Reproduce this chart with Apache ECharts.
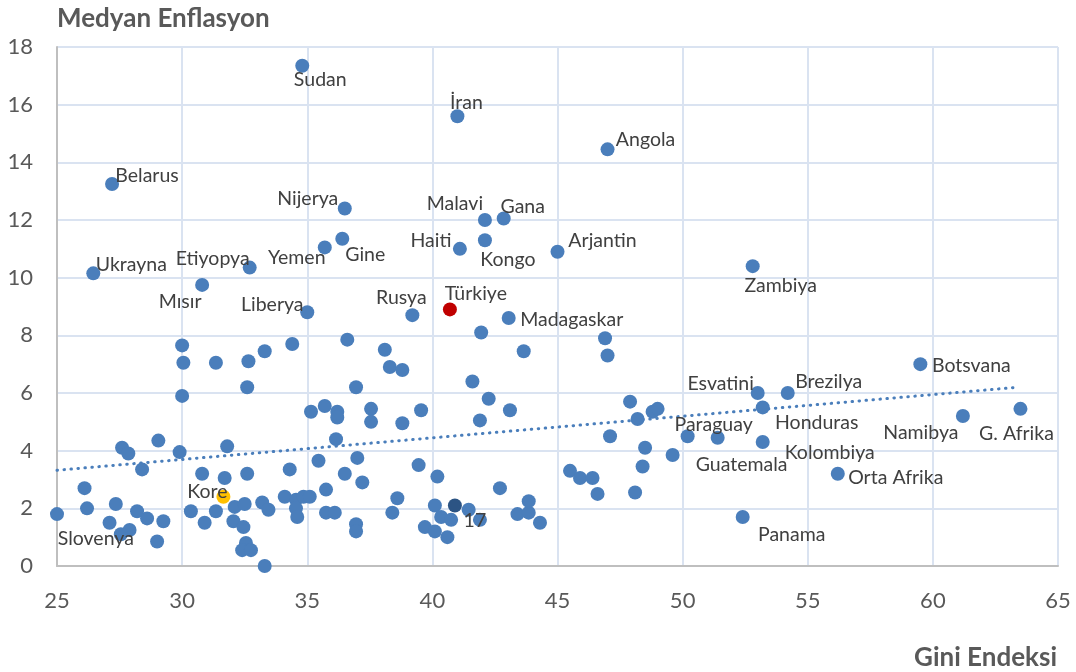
<!DOCTYPE html>
<html>
<head>
<meta charset="utf-8">
<script src="https://cdn.jsdelivr.net/npm/echarts@6/dist/echarts.min.js"></script>
<style>
  html, body { margin: 0; padding: 0; background: #fff; }
  #chart { width: 1076px; height: 672px; }
</style>
</head>
<body>
<div id="chart"></div>
<script>
  // etiketli ülkeler
  var countryNames = ['Sudan', 'İran', 'Angola', 'Belarus', 'Nijerya', 'Malavi', 'Gana', 'Gine', 'Yemen', 'Haiti',
    'Kongo', 'Arjantin', 'Zambiya', 'Ukrayna', 'Etiyopya', 'Mısır', 'Liberya', 'Rusya', 'Madagaskar', 'Botsvana',
    'Esvatini', 'Brezilya', 'Honduras', 'Namibya', 'G. Afrika', 'Paraguay', 'Guatemala', 'Kolombiya', 'Orta Afrika',
    'Panama', 'Slovenya']
  var countryGini = [34.8, 41.0, 47.0, 27.2, 36.5, 42.1, 42.85, 36.4, 35.7, 41.1,
    42.1, 45.0, 52.8, 26.45, 32.7, 30.8, 35.0, 39.2, 43.05, 59.5,
    53.0, 54.2, 53.2, 61.2, 63.5, 50.2, 51.4, 53.2, 56.2,
    52.4, 27.55]
  var countryInfl = [17.35, 15.6, 14.45, 13.25, 12.4, 12.0, 12.05, 11.35, 11.05, 11.0,
    11.3, 10.9, 10.4, 10.15, 10.35, 9.75, 8.8, 8.7, 8.6, 7.0,
    6.0, 6.0, 5.5, 5.2, 5.45, 4.5, 4.45, 4.3, 3.2,
    1.7, 1.1]

  // etiketsiz ülkeler
  var otherGini = [30.0, 30.05, 31.35, 32.65, 33.3, 34.4, 32.6, 30.0, 35.15,
    29.05, 27.6, 27.85, 29.9, 31.8, 28.4, 30.8, 31.7, 32.6, 34.3,
    26.1, 25.0, 26.2, 27.35, 28.2, 28.6, 29.25, 27.1, 27.9, 29.0,
    30.35, 30.9, 31.35, 32.1, 32.5, 32.05, 32.45, 32.55, 32.4, 32.75, 33.3, 33.2, 33.45,
    34.1, 34.55, 34.85, 35.1, 34.55, 34.6,
    36.6, 38.1, 41.95, 43.65, 38.3, 38.8, 36.95, 41.6, 42.25,
    35.7, 36.2, 36.2, 37.55, 37.55, 38.8, 39.55, 41.9, 43.1, 36.15,
    35.45, 36.5, 37.0, 37.2, 35.75, 39.45, 40.2, 42.7, 38.6,
    35.75, 36.1, 36.95, 36.95, 38.4, 40.1,
    40.35, 40.75, 41.45, 41.9, 39.7, 40.1, 40.6,
    43.4, 43.85, 43.85, 44.3,
    46.9, 47.0, 47.9, 48.2, 48.8, 49.0, 47.1, 48.5, 49.6, 48.4,
    45.5, 45.9, 46.4, 46.6, 48.1]
  var otherInfl = [7.65, 7.05, 7.05, 7.1, 7.45, 7.7, 6.2, 5.9, 5.35,
    4.35, 4.1, 3.9, 3.95, 4.15, 3.35, 3.2, 3.05, 3.2, 3.35,
    2.7, 1.8, 2.0, 2.15, 1.9, 1.65, 1.55, 1.5, 1.25, 0.85,
    1.9, 1.5, 1.9, 2.05, 2.15, 1.55, 1.35, 0.8, 0.55, 0.55, 0.0, 2.2, 1.95,
    2.4, 2.3, 2.4, 2.4, 2.0, 1.7,
    7.85, 7.5, 8.1, 7.45, 6.9, 6.8, 6.2, 6.4, 5.8,
    5.55, 5.35, 5.15, 5.45, 5.0, 4.95, 5.4, 5.05, 5.4, 4.4,
    3.65, 3.2, 3.75, 2.9, 2.65, 3.5, 3.1, 2.7, 2.35,
    1.85, 1.85, 1.45, 1.2, 1.85, 2.1,
    1.7, 1.6, 1.95, 1.6, 1.35, 1.2, 1.0,
    1.8, 1.85, 2.25, 1.5,
    7.9, 7.3, 5.7, 5.1, 5.35, 5.45, 4.5, 4.1, 3.85, 3.45,
    3.3, 3.05, 3.05, 2.5, 2.55]

  // vurgulanan noktalar
  var turkeyPoint = [40.7, 8.9]
  var koreaPoint = [31.65, 2.4]
  var darkPoint = [40.9, 2.1]
  var darkLabel = '17'

  // trend çizgisi uçları
  var trendX = [25, 63.4]
  var trendY = [3.32, 6.2]

  var xTicks = { min: 25, max: 65, step: 5 }
  var yTicks = { min: 0, max: 18, step: 2 }

  // etiket kaydırmaları (px)
  var labelOffset = {
    'Sudan': [18, 14], 'İran': [9, -13], 'Angola': [38, -10], 'Belarus': [35, -8], 'Nijerya': [-37, -10],
    'Malavi': [-30, -16], 'Gana': [19, -12], 'Gine': [23, 16], 'Yemen': [-28, 10], 'Haiti': [-29, -8],
    'Kongo': [23, 20], 'Arjantin': [45, -11], 'Zambiya': [28, 20], 'Ukrayna': [38, -9], 'Etiyopya': [-37, -9],
    'Mısır': [-22, 17], 'Liberya': [-35, -8], 'Rusya': [-11, -17], 'Madagaskar': [63, 2], 'Botsvana': [51, 2],
    'Esvatini': [-37, -9], 'Brezilya': [41, -11], 'Honduras': [54, 15], 'Namibya': [-42, 17], 'G. Afrika': [-4, 25],
    'Paraguay': [26, -12], 'Guatemala': [24, 27], 'Kolombiya': [67, 11], 'Orta Afrika': [58, 4], 'Panama': [49, 18],
    'Slovenya': [-25, 4], 'Türkiye': [26, -16], 'Kore': [-16, -5], '17': [20, 15]
  }

  var blue = '#4a7ebb'
  var font = 'Lato'

  function labelled(name, x, y, color) {
    return {
      name: name,
      value: [x, y],
      itemStyle: { color: color || blue, opacity: 1 },
      label: {
        show: true,
        position: 'inside',
        offset: labelOffset[name],
        formatter: name,
        color: '#404040',
        opacity: 1,
        textBorderWidth: 0,
        fontSize: 19.5,
        fontFamily: font
      }
    }
  }

  var myChart = echarts.init(document.getElementById('chart'))

  var otherData = otherGini.map(function (g, i) { return [g, otherInfl[i]] })
  var countryData = countryNames.map(function (n, i) { return labelled(n, countryGini[i], countryInfl[i]) })

  var option = {
    animation: false,
    title: [{
      text: 'Medyan Enflasyon',
      left: 52,
      top: 1,
      textStyle: { color: '#595959', fontSize: 26, fontWeight: 'bold', fontFamily: font }
    }, {
      text: 'Gini Endeksi',
      right: 14,
      top: 640,
      textStyle: { color: '#595959', fontSize: 26, fontWeight: 'bold', fontFamily: font }
    }],
    grid: {
      left: 57,
      right: 18,
      top: 47,
      bottom: 106
    },
    xAxis: {
      type: 'value',
      min: xTicks.min,
      max: xTicks.max,
      interval: xTicks.step,
      axisLine: { show: true, lineStyle: { color: '#bfbfbf', width: 2 } },
      axisTick: { show: false },
      axisLabel: { color: '#595959', fontSize: 22, fontFamily: font, margin: 24 },
      splitLine: { show: true, lineStyle: { color: '#dae3f1', width: 2 } }
    },
    yAxis: {
      type: 'value',
      min: yTicks.min,
      max: yTicks.max,
      interval: yTicks.step,
      axisLine: { show: true, lineStyle: { color: '#bfbfbf', width: 2 } },
      axisTick: { show: false },
      axisLabel: { color: '#595959', fontSize: 22, fontFamily: font, margin: 24 },
      splitLine: { show: true, lineStyle: { color: '#dae3f1', width: 2 } }
    },
    series: [{
      name: 'trend',
      type: 'line',
      data: [[trendX[0], trendY[0]], [trendX[1], trendY[1]]],
      symbol: 'none',
      silent: true,
      lineStyle: { color: blue, width: 3, type: [0.5, 6.5], cap: 'round' },
      z: 1
    }, {
      name: 'diğer',
      type: 'scatter',
      data: otherData,
      symbol: 'circle',
      symbolSize: 14,
      itemStyle: { color: blue, opacity: 1 },
      z: 2
    }, {
      name: 'ülkeler',
      type: 'scatter',
      data: countryData,
      symbol: 'circle',
      symbolSize: 14,
      itemStyle: { color: blue, opacity: 1 },
      z: 3
    }, {
      name: 'vurgu',
      type: 'scatter',
      data: [
        labelled('Türkiye', turkeyPoint[0], turkeyPoint[1], '#c00000'),
        labelled('Kore', koreaPoint[0], koreaPoint[1], '#ffc000'),
        labelled(darkLabel, darkPoint[0], darkPoint[1], '#2c5484')
      ],
      symbol: 'circle',
      symbolSize: 14,
      itemStyle: { opacity: 1 },
      z: 4
    }]
  }

  myChart.setOption(option)
  window.addEventListener('resize', myChart.resize)
</script>
</body>
</html>
